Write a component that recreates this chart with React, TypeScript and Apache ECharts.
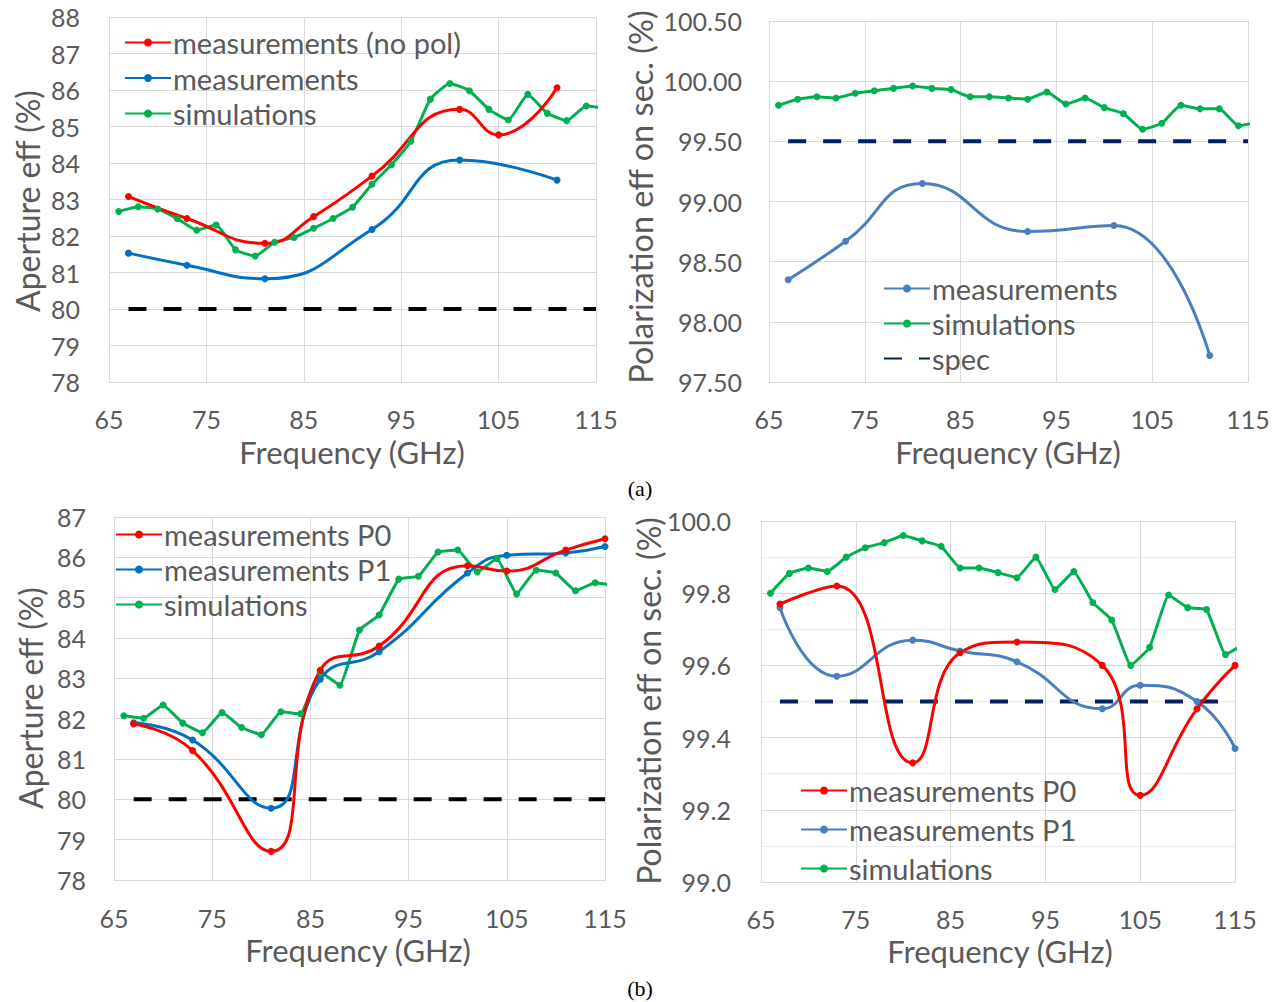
import React, { useEffect, useRef } from "react";
import * as echarts from "echarts";

// ---------- data ----------
const freqSim = [66, 68, 70, 72, 74, 76, 78, 80, 82, 84, 86, 88, 90, 92, 94, 96, 98, 100, 102, 104, 106, 108, 110, 112, 114, 116];

// (a) left: aperture efficiency
const freqNoPolA = [67, 73, 81, 86, 92, 101, 105, 111];
const measNoPolA = [83.08, 82.48, 81.8, 82.53, 83.64, 85.47, 84.77, 86.06];
const freqMeasA = [67, 73, 81, 92, 101, 111];
const measA = [81.53, 81.2, 80.83, 82.18, 84.08, 83.53];
const simA = [82.67, 82.8, 82.74, 82.48, 82.16, 82.3, 81.62, 81.45, 81.83, 81.96, 82.21, 82.48, 82.79, 83.42, 83.95, 84.6, 85.75, 86.18, 85.98, 85.47, 85.18, 85.88, 85.36, 85.16, 85.56, 85.5];
const specA = 80;

// (a) right: polarization efficiency
const freqMeasB = [67, 73, 81, 92, 101, 111];
const measB = [98.35, 98.67, 99.15, 98.75, 98.8, 97.72];
const simB = [99.8, 99.85, 99.87, 99.86, 99.9, 99.92, 99.94, 99.96, 99.94, 99.93, 99.87, 99.87, 99.86, 99.85, 99.91, 99.81, 99.86, 99.78, 99.73, 99.6, 99.65, 99.8, 99.77, 99.77, 99.63, 99.66];
const specB = 99.5;

// (b) left: aperture efficiency
const freqMeasC = [67, 73, 81, 86, 92, 101, 105, 111, 115];
const measP0C = [81.87, 81.21, 78.71, 83.2, 83.8, 85.79, 85.66, 86.18, 86.46];
const measP1C = [81.9, 81.47, 79.78, 82.98, 83.66, 85.61, 86.05, 86.11, 86.27];
const simC = [82.07, 82.01, 82.34, 81.89, 81.65, 82.15, 81.78, 81.6, 82.17, 82.12, 83.16, 82.83, 84.2, 84.57, 85.46, 85.53, 86.13, 86.18, 85.64, 85.97, 85.09, 85.68, 85.61, 85.17, 85.37, 85.3];
const specC = 80;

// (b) right: polarization efficiency
const freqMeasD = [67, 73, 81, 86, 92, 101, 105, 111, 115];
const measP0D = [99.77, 99.82, 99.33, 99.635, 99.665, 99.6, 99.24, 99.48, 99.6];
const measP1D = [99.76, 99.57, 99.67, 99.64, 99.61, 99.48, 99.545, 99.5, 99.37];
const simD = [99.8, 99.855, 99.87, 99.86, 99.9, 99.926, 99.94, 99.96, 99.945, 99.93, 99.87, 99.87, 99.857, 99.843, 99.9, 99.81, 99.86, 99.774, 99.726, 99.6, 99.65, 99.795, 99.76, 99.755, 99.63, 99.66];
const specD = 99.5;

const xTicks = [65, 75, 85, 95, 105, 115];

// ---------- styling ----------
const FONT = "Lato";
const GREY = "#595959";
const GRID = "#d9d9d9";
const RED = "#ff0000";
const BLUE = "#0070c0";
const BLUE2 = "#4a7ebf";
const GREEN = "#00b050";
const NAVY = "#002060";

const pairs = (xs: number[], ys: number[]) => xs.map((x, i) => [x, ys[i]]);

function lineSeries(name: string, xs: number[], ys: number[], color: string, idx: number, smooth: number) {
  return {
    type: "line",
    name,
    xAxisIndex: idx,
    yAxisIndex: idx,
    data: pairs(xs, ys),
    smooth,
    symbol: "circle",
    symbolSize: 7,
    showSymbol: true,
    lineStyle: { color, width: 3 },
    itemStyle: { color },
    clip: true,
    z: 3,
  };
}

function specSeries(name: string, value: number, color: string, idx: number) {
  return {
    type: "line",
    name,
    xAxisIndex: idx,
    yAxisIndex: idx,
    data: [
      [67, value],
      [115, value],
    ],
    symbol: "none",
    lineStyle: { color, width: 4, type: [18, 17], cap: "butt" },
    itemStyle: { color },
    z: 2,
  };
}

function xAxis(idx: number, labelMargin: number) {
  return {
    type: "value",
    gridIndex: idx,
    min: 65,
    max: 115,
    interval: 10,
    axisLine: { show: true, lineStyle: { color: GRID, width: 1 } },
    axisTick: { show: false },
    splitLine: { show: true, lineStyle: { color: GRID, width: 1 } },
    axisLabel: {
      margin: labelMargin,
      color: GREY,
      fontFamily: FONT,
      fontSize: 25,
      formatter: (v: number) => (xTicks.includes(v) ? String(v) : ""),
    },
  };
}

function yAxis(idx: number, min: number, max: number, interval: number, digits: number, labelMargin: number, minor = false) {
  return {
    type: "value",
    gridIndex: idx,
    min,
    max,
    interval,
    axisLine: { show: true, lineStyle: { color: GRID, width: 1 } },
    axisTick: { show: false },
    splitLine: { show: true, lineStyle: { color: GRID, width: 1 } },
    minorTick: { show: false, splitNumber: 2 },
    minorSplitLine: { show: minor, lineStyle: { color: "#ececec", width: 1 } },
    axisLabel: {
      margin: labelMargin,
      color: GREY,
      fontFamily: FONT,
      fontSize: 25,
      formatter: (v: number) => v.toFixed(digits),
    },
  };
}

function legend(names: any[], left: number, top: number, gap: number) {
  return {
    data: names,
    left,
    top,
    orient: "vertical",
    itemWidth: 46,
    itemHeight: 10,
    itemGap: gap,
    selectedMode: false,
    padding: 0,
    textStyle: { color: GREY, fontFamily: FONT, fontSize: 29, lineHeight: 31, padding: [0, 0, 0, -3] },
  };
}

function txt(text: string, x: number, y: number, size: number, rotate = 0, font = FONT, color = GREY) {
  return {
    type: "text",
    x,
    y,
    rotation: rotate,
    style: {
      text,
      fill: color,
      font: `${size}px ${font}`,
      textAlign: "center",
      textVerticalAlign: "middle",
    },
  };
}

export default function App() {
  const ref = useRef<HTMLDivElement>(null);

  useEffect(() => {
    document.body.style.margin = "0";
    const chart = echarts.init(ref.current!, null, { renderer: "svg" });
    const option = {
      animation: false,
      backgroundColor: "#ffffff",
      grid: [
        { left: 109, top: 17, width: 487, height: 365 },
        { left: 769, top: 21, width: 479, height: 361 },
        { left: 114, top: 517, width: 491, height: 363 },
        { left: 761, top: 521, width: 474, height: 361 },
      ],
      xAxis: [xAxis(0, 24), xAxis(1, 24), xAxis(2, 25), xAxis(3, 24)],
      yAxis: [
        yAxis(0, 78, 88, 1, 0, 29),
        yAxis(1, 97.5, 100.5, 0.5, 2, 27),
        yAxis(2, 78, 87, 1, 0, 28),
        yAxis(3, 99, 100, 0.2, 1, 30, true),
      ],
      legend: [
        legend(["measurements (no pol)", "measurements", "simulations"], 124, 27, 4.5),
        legend(
          ["measurements ", "simulations ", { name: "spec", itemStyle: { color: "rgba(0,0,0,0)", borderWidth: 0 } }],
          883,
          273,
          4
        ),
        legend(["measurements P0", "measurements P1", "simulations  "], 115, 519, 4),
        legend(["measurements P0 ", "measurements P1 ", "simulations   "], 800, 775, 8),
      ],
      series: [
        specSeries("specA", specA, "#000000", 0),
        lineSeries("simulations", freqSim, simA, GREEN, 0, 0.15),
        lineSeries("measurements", freqMeasA, measA, BLUE, 0, 0.5),
        lineSeries("measurements (no pol)", freqNoPolA, measNoPolA, RED, 0, 0.5),

        specSeries("spec", specB, NAVY, 1),
        lineSeries("simulations ", freqSim, simB, GREEN, 1, 0.15),
        lineSeries("measurements ", freqMeasB, measB, BLUE2, 1, 0.5),

        specSeries("specC", specC, "#000000", 2),
        lineSeries("simulations  ", freqSim, simC, GREEN, 2, 0.1),
        lineSeries("measurements P1", freqMeasC, measP1C, BLUE, 2, 0.5),
        lineSeries("measurements P0", freqMeasC, measP0C, RED, 2, 0.5),

        specSeries("specD", specD, NAVY, 3),
        lineSeries("simulations   ", freqSim, simD, GREEN, 3, 0.1),
        lineSeries("measurements P1 ", freqMeasD, measP1D, BLUE2, 3, 0.5),
        lineSeries("measurements P0 ", freqMeasD, measP0D, RED, 3, 0.5),
      ],
      graphic: [
        txt("Aperture eff (%)", 27, 201, 32, Math.PI / 2),
        txt("Polarization eff on sec. (%)", 640, 197, 32.5, Math.PI / 2),
        txt("Aperture eff (%)", 30, 698, 32, Math.PI / 2),
        txt("Polarization eff on sec. (%)", 648, 701, 32, Math.PI / 2),
        txt("Frequency (GHz)", 352, 452, 31),
        txt("Frequency (GHz)", 1008, 452, 31),
        txt("Frequency (GHz)", 358, 950, 31),
        txt("Frequency (GHz)", 1000, 951, 31),
        txt("(a)", 640, 488, 22, 0, "'Liberation Serif', 'Times New Roman', serif", "#000000"),
        txt("(b)", 640, 988, 22, 0, "'Liberation Serif', 'Times New Roman', serif", "#000000"),
      ],
    };
    chart.setOption(option as any);
    return () => chart.dispose();
  }, []);

  return <div ref={ref} style={{ width: 1279, height: 1002, background: "#fff" }} />;
}
